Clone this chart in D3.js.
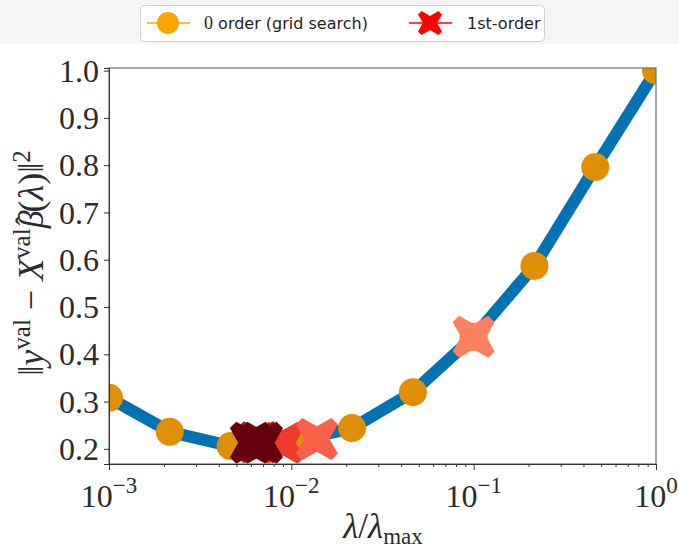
<!DOCTYPE html>
<html>
<head>
<meta charset="utf-8">
<script src="https://cdn.jsdelivr.net/npm/d3@7"></script>
<style>
  body { margin: 0; background: #fff; }
  svg { display: block; }
</style>
</head>
<body>
<div id="chart"></div>
<script>
// grid search: lambda / lambda_max and validation loss
const gridLambda = [1e-3, 2.154e-3, 4.642e-3, 1e-2, 2.154e-2, 4.642e-2, 1e-1, 2.154e-1, 4.642e-1, 1];
const gridLoss = [0.308, 0.236, 0.206, 0.215, 0.244, 0.320, 0.437, 0.587, 0.796, 1.0];

// 1st-order iterates (draw order)
const iterLambda = [0.1, 0.0090, 0.0138, 0.0066, 0.0069, 0.0060];
const iterLoss = [0.437, 0.213, 0.221, 0.214, 0.213, 0.213];
const iterColor = ["#fc8060", "#ef3b2c", "#fb6048", "#c0141c", "#67000d", "#67000d"];

const yTicks = [0.2, 0.3, 0.4, 0.5, 0.6, 0.7, 0.8, 0.9, 1.0];
const xMajor = [1e-3, 1e-2, 1e-1, 1];
const xExp = ["\u22123", "\u22122", "\u22121", "0"];

const width = 679;
const height = 548;
const pLeft = 109, pRight = 656, pTop = 68, pBottom = 464;
const serif = "'Liberation Serif', 'DejaVu Serif', serif";
const sans = "'DejaVu Sans', 'Open Sans', sans-serif";
const ink = "#2b2b2b";

const svg = d3.select("#chart")
              .append("svg")
              .attr("width", width)
              .attr("height", height);

svg.append("rect")
   .attr("width", width)
   .attr("height", 44)
   .attr("fill", "#f5f5f5");

const xScale = d3.scaleLog()
                 .domain([1e-3, 1])
                 .range([pLeft, pRight]);

const yScale = d3.scaleLinear()
                 .domain([0.168, 1.0055])
                 .range([pBottom, pTop]);

svg.append("clipPath")
   .attr("id", "plot-clip")
   .append("rect")
   .attr("x", pLeft)
   .attr("y", pTop)
   .attr("width", pRight - pLeft)
   .attr("height", pBottom - pTop);

const plot = svg.append("g").attr("clip-path", "url(#plot-clip)");

const line = d3.line()
               .x((d, i) => xScale(gridLambda[i]))
               .y(d => yScale(d));

plot.append("path")
    .datum(gridLoss)
    .attr("d", line)
    .attr("fill", "none")
    .attr("stroke", "#0173b2")
    .attr("stroke-width", 12)
    .attr("stroke-linejoin", "round");

plot.selectAll("circle")
    .data(gridLoss)
    .enter()
    .append("circle")
    .attr("cx", (d, i) => xScale(gridLambda[i]))
    .attr("cy", d => yScale(d))
    .attr("r", 14)
    .attr("fill", "#de8f05");

// filled X marker, half-size s, arm half-width w
function xPath(s, w) {
  const a = w / Math.SQRT2, b = s;
  return `M${-b + a},${-b} L0,${-a * 2} L${b - a},${-b} L${b},${-b + a} L${a * 2},0 ` +
         `L${b},${b - a} L${b - a},${b} L0,${a * 2} L${-b + a},${b} L${-b},${b - a} ` +
         `L${-a * 2},0 L${-b},${-b + a} Z`;
}

svg.append("g")
   .selectAll("path")
   .data(iterLoss)
   .enter()
   .append("path")
   .attr("d", xPath(21, 9))
   .attr("transform", (d, i) => `translate(${xScale(iterLambda[i])},${yScale(d)})`)
   .attr("fill", (d, i) => iterColor[i]);

// spines
svg.append("rect")
   .attr("x", pLeft)
   .attr("y", pTop)
   .attr("width", pRight - pLeft)
   .attr("height", pBottom - pTop)
   .attr("fill", "none")
   .attr("stroke", "#6e6e6e")
   .attr("stroke-width", 1.2);

// y axis
const yAxis = svg.append("g")
   .attr("transform", `translate(${pLeft},0)`)
   .call(d3.axisLeft(yScale).tickValues(yTicks).tickFormat(d3.format(".1f")).tickSize(5).tickPadding(5));
yAxis.select(".domain").attr("stroke", "#333");
yAxis.selectAll(".tick line").attr("stroke", "#333");
yAxis.selectAll("text")
     .style("font-family", serif)
     .style("font-size", "32px")
     .attr("fill", ink)
     .attr("dy", "0.33em");

// x axis, minor ticks
const xMinor = [];
[1e-3, 1e-2, 1e-1].forEach(dec => { for (let k = 2; k <= 9; k++) xMinor.push(dec * k); });

const xMin = svg.append("g")
   .attr("transform", `translate(0,${pBottom})`)
   .call(d3.axisBottom(xScale).tickValues(xMinor).tickFormat("").tickSize(3));
xMin.select(".domain").remove();
xMin.selectAll(".tick line").attr("stroke", "#333");

const xAx = svg.append("g")
   .attr("transform", `translate(0,${pBottom})`)
   .call(d3.axisBottom(xScale).tickValues(xMajor).tickFormat("").tickSize(6));
xAx.select(".domain").attr("stroke", "#333");
xAx.selectAll(".tick line").attr("stroke", "#333");

const xLab = svg.append("g")
   .selectAll("text")
   .data(xMajor)
   .enter()
   .append("text")
   .attr("x", d => xScale(d))
   .attr("y", 507)
   .attr("text-anchor", "middle")
   .style("font-family", serif)
   .style("font-size", "32px")
   .attr("fill", ink);
xLab.append("tspan").text("10");
xLab.append("tspan")
    .attr("dy", -14)
    .style("font-size", "23px")
    .text((d, i) => xExp[i]);

// x label
const xl = svg.append("text")
   .attr("x", 383)
   .attr("y", 538)
   .attr("text-anchor", "middle")
   .style("font-family", serif)
   .style("font-size", "35px")
   .attr("fill", ink);
xl.append("tspan").style("font-style", "italic").text("\u03bb");
xl.append("tspan").text("/");
xl.append("tspan").style("font-style", "italic").text("\u03bb");
xl.append("tspan").attr("dy", 6).style("font-size", "23px").text("max");

// y label
const yl = svg.append("text")
   .attr("transform", "translate(43,263) rotate(-90)")
   .attr("text-anchor", "middle")
   .style("font-family", serif)
   .style("font-size", "36px")
   .attr("fill", ink);
yl.append("tspan").text("\u2016");
yl.append("tspan").style("font-style", "italic").text("y");
yl.append("tspan").attr("dy", -13).style("font-size", "25px").text("val");
yl.append("tspan").attr("dy", 13).text(" \u2212 ");
yl.append("tspan").style("font-style", "italic").text("X");
yl.append("tspan").attr("dy", -13).style("font-size", "25px").text("val");
yl.append("tspan").attr("dy", 13).style("font-style", "italic").text("\u03b2");
yl.append("tspan").attr("dx", -15).attr("dy", -7).style("font-size", "30px").text("\u02c6");
yl.append("tspan").attr("dx", 3).attr("dy", 7).text("(");
yl.append("tspan").style("font-style", "italic").text("\u03bb");
yl.append("tspan").text(")\u2016");
yl.append("tspan").attr("dy", -13).style("font-size", "25px").text("2");

// legend
const lg = svg.append("g");
lg.append("rect")
  .attr("x", 140.5)
  .attr("y", 5.5)
  .attr("width", 404)
  .attr("height", 36)
  .attr("rx", 4)
  .attr("fill", "#fff")
  .attr("stroke", "#d0d0d0");

lg.append("line")
  .attr("x1", 147).attr("x2", 190).attr("y1", 23).attr("y2", 23)
  .attr("stroke", "#ffa500").attr("stroke-width", 1.5);
lg.append("circle")
  .attr("cx", 168).attr("cy", 23).attr("r", 11)
  .attr("fill", "#ffa500");
const t1 = lg.append("text")
  .attr("x", 204).attr("y", 29)
  .style("font-family", sans)
  .style("font-size", "16px")
  .attr("fill", "#222");
t1.append("tspan").style("font-family", serif).style("font-size", "18px").text("0");
t1.append("tspan").text(" order (grid search)");

lg.append("line")
  .attr("x1", 409).attr("x2", 452).attr("y1", 23).attr("y2", 23)
  .attr("stroke", "#ff0000").attr("stroke-width", 1.5);
lg.append("path")
  .attr("d", xPath(12, 5))
  .attr("transform", "translate(430,23)")
  .attr("fill", "#ff0000");
lg.append("text")
  .attr("x", 467).attr("y", 29)
  .style("font-family", sans)
  .style("font-size", "16px")
  .attr("fill", "#222")
  .text("1st-order");
</script>
</body>
</html>
